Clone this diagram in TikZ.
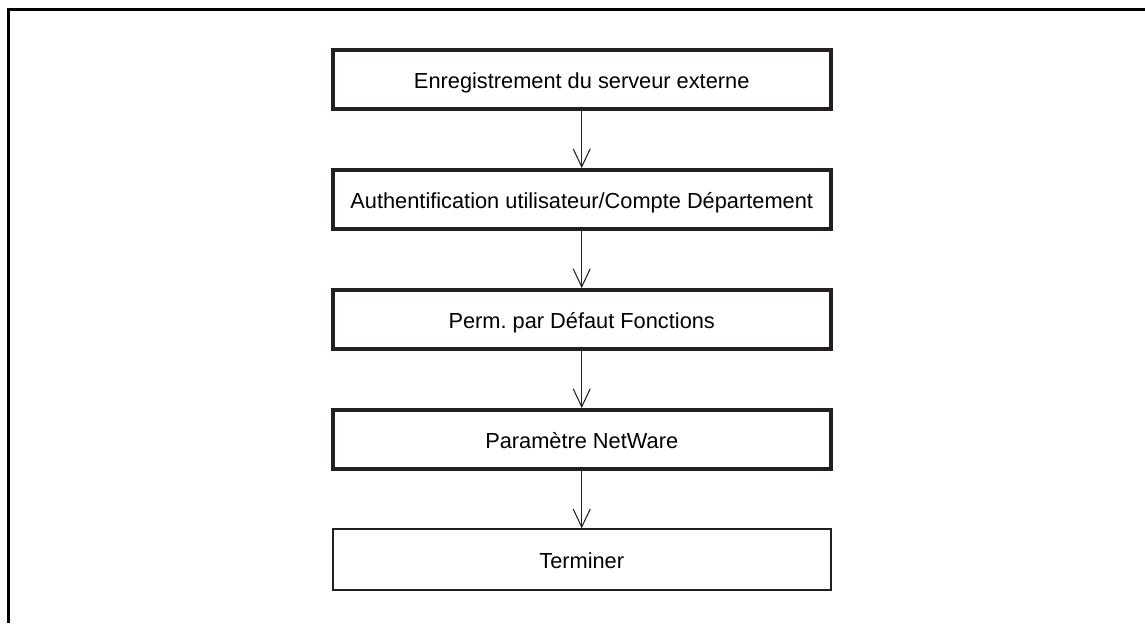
\documentclass[tikz,border=0pt]{standalone}
\usepackage{fontspec}
\setmainfont{Liberation Sans}
\usetikzlibrary{arrows.meta}
\definecolor{ink}{RGB}{35,31,32}
\begin{document}
\begin{tikzpicture}[
  x=0.02cm, y=-0.02cm,
  node distance=2.4cm,
  every node/.style={font=\fontsize{12.4}{14.5}\selectfont},
  box/.style={
    draw=ink,
    line width=2.2pt,
    align=center,
    text height=1em,
    text depth=0pt,
    minimum width=9.96cm,
    minimum height=1.18cm
  },
  endbox/.style={box, line width=1pt, minimum height=1.21cm},
  arrow/.style={-{Straight Barb[length=0.36cm, width=0.34cm]}, line width=0.6pt, color=ink},
  frame/.style={line width=1.9pt, line join=miter}
]
\useasboundingbox (0,0) rectangle (1145,623);
\draw[frame] (1145,9.7) -- (8.3,9.7) -- (8.3,623);
\node[box] (server) at (581.7,79.5) {Enregistrement du serveur externe};
\node[box, below of=server] (auth) {Authentification utilisateur/Compte Département};
\node[box, below of=auth] (perm) {Perm.\ par Défaut Fonctions};
\node[box, below of=perm] (netware) {Paramètre NetWare};
\node[endbox, below of=netware] (done) {Terminer};
\draw[arrow] (server) -- (auth);
\draw[arrow] (auth) -- (perm);
\draw[arrow] (perm) -- (netware);
\draw[arrow] (netware) -- (done);
\end{tikzpicture}
\end{document}
